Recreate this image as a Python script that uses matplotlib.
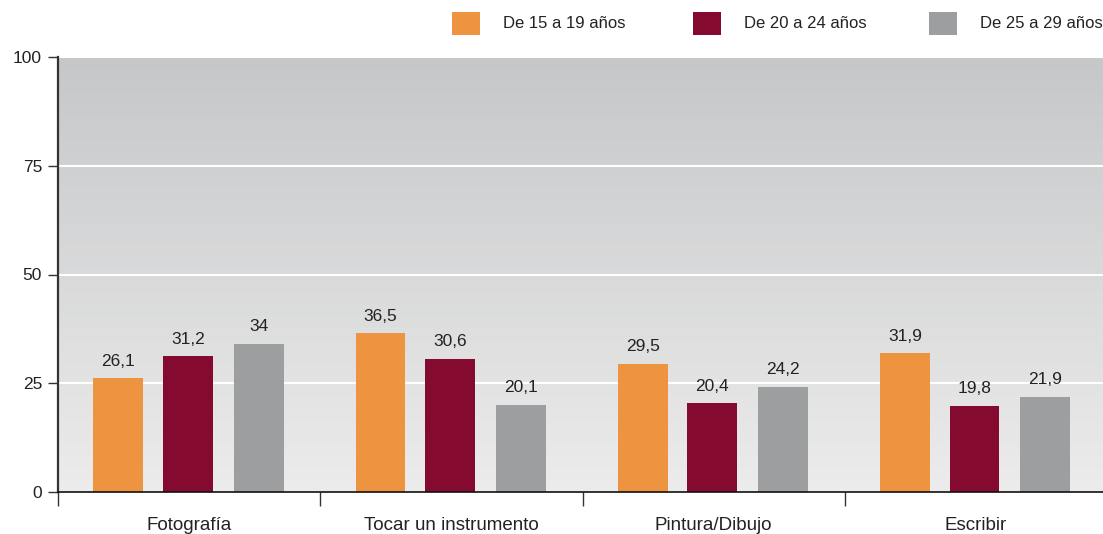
import numpy as np
import matplotlib
matplotlib.use("Agg")
import matplotlib.pyplot as plt
from matplotlib.patches import Rectangle

plt.rcParams['font.family'] = ['Liberation Sans', 'DejaVu Sans']

# datos
categorias = ['Fotografía', 'Tocar un instrumento', 'Pintura/Dibujo', 'Escribir']
series = ['De 15 a 19 años', 'De 20 a 24 años', 'De 25 a 29 años']
v_15_19 = [26.1, 36.5, 29.5, 31.9]
v_20_24 = [31.2, 30.6, 20.4, 19.8]
v_25_29 = [34, 20.1, 24.2, 21.9]
yticks = [0, 25, 50, 75, 100]

colores = ['#EE9441', '#850A2F', '#9D9EA0']
offsets = [-0.27, -0.005, 0.265]
ancho = 0.19

W, H = 1103, 534
fig = plt.figure(figsize=(W / 100, H / 100), dpi=100)
ax = fig.add_axes([58 / W, 1 - 492 / H, 1049 / W, (492 - 57) / H])

# fondo degradado
grad = np.linspace(0, 1, 256).reshape(-1, 1)
cmap = matplotlib.colors.LinearSegmentedColormap.from_list('fondo', ['#ECECEC', '#C6C7C9'])
ax.imshow(grad, extent=[-0.5, 3.5, 0, 100], origin='lower', aspect='auto', cmap=cmap, zorder=0)

for y in [25, 50, 75, 100]:
    ax.axhline(y, color='white', lw=1.5, zorder=1)

x = np.arange(len(categorias))
valores = [v_15_19, v_20_24, v_25_29]
for i, vals in enumerate(valores):
    ax.bar(x + offsets[i], vals, width=ancho, color=colores[i], zorder=2)
    for xi, v in zip(x + offsets[i], vals):
        txt = str(v).replace('.', ',')
        if txt.endswith(',0'):
            txt = txt[:-2]
        ax.annotate(txt, (xi, v), xytext=(0, 7), textcoords='offset points',
                    ha='center', va='bottom', fontsize=12.5, color='#222222')

ax.set_xlim(-0.5, 3.5)
ax.set_ylim(0, 100)
ax.set_yticks(yticks)
ax.set_yticklabels([str(t) for t in yticks], fontsize=12.5, color='#222222')
ax.tick_params(axis='y', length=7.5, width=1, color='#333333', pad=4)

ax.set_xticks(x)
ax.set_xticklabels(categorias, fontsize=13.5, color='#222222')
ax.tick_params(axis='x', which='major', length=0, pad=18)
ax.set_xticks([-0.5, 0.5, 1.5, 2.5], minor=True)
ax.tick_params(axis='x', which='minor', length=10, width=1, color='#333333', direction='out')

for s in ['top', 'right']:
    ax.spines[s].set_visible(False)
ax.spines['left'].set_color('#333333')
ax.spines['left'].set_linewidth(1.6)
ax.spines['bottom'].set_color('#111111')
ax.spines['bottom'].set_linewidth(1.2)
ax.spines['bottom'].set_zorder(3)

# leyenda manual
leg_x = [452, 693, 929]
for px, c, lab in zip(leg_x, colores, series):
    fig.patches.append(Rectangle((px / W, 1 - 35 / H), 28 / W, 23 / H,
                                 transform=fig.transFigure, facecolor=c, edgecolor='none'))
    fig.text((px + 51) / W, 1 - 23.5 / H, lab, fontsize=12, color='#222222',
             ha='left', va='center')

fig.savefig('out.png', dpi=100)
